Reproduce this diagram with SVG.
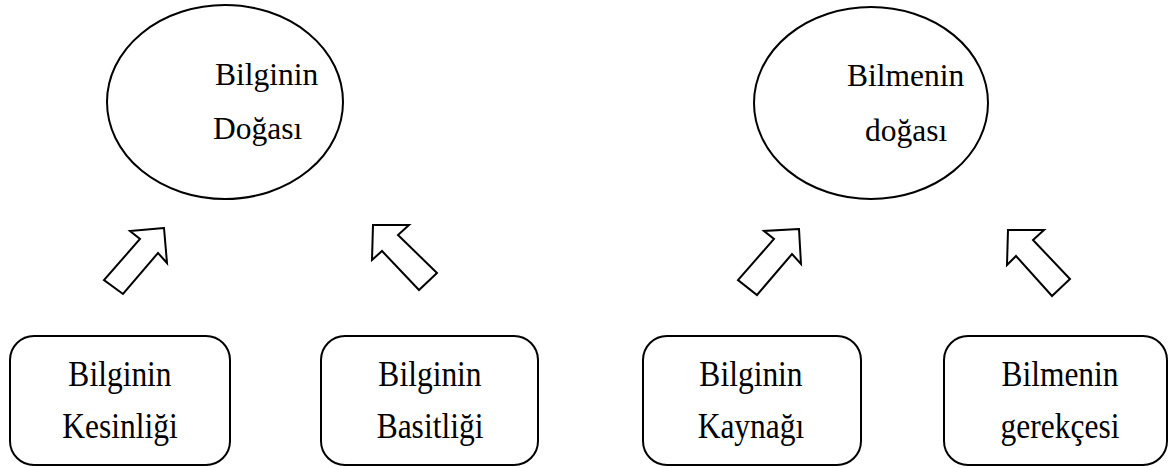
<svg xmlns="http://www.w3.org/2000/svg" width="1173" height="468" viewBox="0 0 1173 468">
<style>
.shape{fill:#ffffff;stroke:#000000;stroke-width:2}
.arrow{fill:#ffffff;stroke:#000000;stroke-width:2;stroke-linejoin:miter}
.t{font-family:"Liberation Serif","Times New Roman",serif;font-size:31.5px;fill:#000000}
.c{text-anchor:middle}
</style>
<rect width="1173" height="468" fill="#ffffff"/>
<g id="node-bilginin-dogasi">
<ellipse class="shape" cx="225" cy="102" rx="118" ry="97"/>
<text class="t" x="215" y="85">Bilginin</text>
<text class="t" x="213" y="139">Doğası</text>
</g>
<g id="node-bilmenin-dogasi">
<ellipse class="shape" cx="871" cy="103" rx="117" ry="96"/>
<text class="t" x="847" y="86">Bilmenin</text>
<text class="t" x="865" y="141">doğası</text>
</g>
<g id="node-kesinligi">
<rect class="shape" x="10" y="336" width="220" height="129" rx="24" ry="24"/>
<text class="t c" transform="translate(120,386) scale(1,1.12)">Bilginin</text>
<text class="t c" transform="translate(120,438) scale(1,1.12)">Kesinliği</text>
</g>
<g id="node-basitligi">
<rect class="shape" x="321" y="336" width="217" height="129" rx="24" ry="24"/>
<text class="t c" transform="translate(430,386) scale(1,1.12)">Bilginin</text>
<text class="t c" transform="translate(430,438) scale(1,1.12)">Basitliği</text>
</g>
<g id="node-kaynagi">
<rect class="shape" x="643" y="336" width="218" height="129" rx="24" ry="24"/>
<text class="t c" transform="translate(751,386) scale(1,1.12)">Bilginin</text>
<text class="t c" transform="translate(751,438) scale(1,1.12)">Kaynağı</text>
</g>
<g id="node-gerekcesi">
<rect class="shape" x="944" y="336" width="223" height="129" rx="24" ry="24"/>
<text class="t c" transform="translate(1060,386) scale(1,1.12)">Bilmenin</text>
<text class="t c" transform="translate(1060,438) scale(1,1.12)">gerekçesi</text>
</g>
<g id="connectors">
<polygon class="arrow" points="164,228 130,231 140,239 104,280 123,294 158,253 167,263"/>
<polygon class="arrow" points="373,225 409,225 398,235 437,273 419,290 382,251 372,260"/>
<polygon class="arrow" points="799,229 764,231 774,239 738,280 757,295 792,254 801,264"/>
<polygon class="arrow" points="1008,230 1044,230 1033,240 1070,279 1052,296 1016,256 1007,265"/>
</g>
</svg>
